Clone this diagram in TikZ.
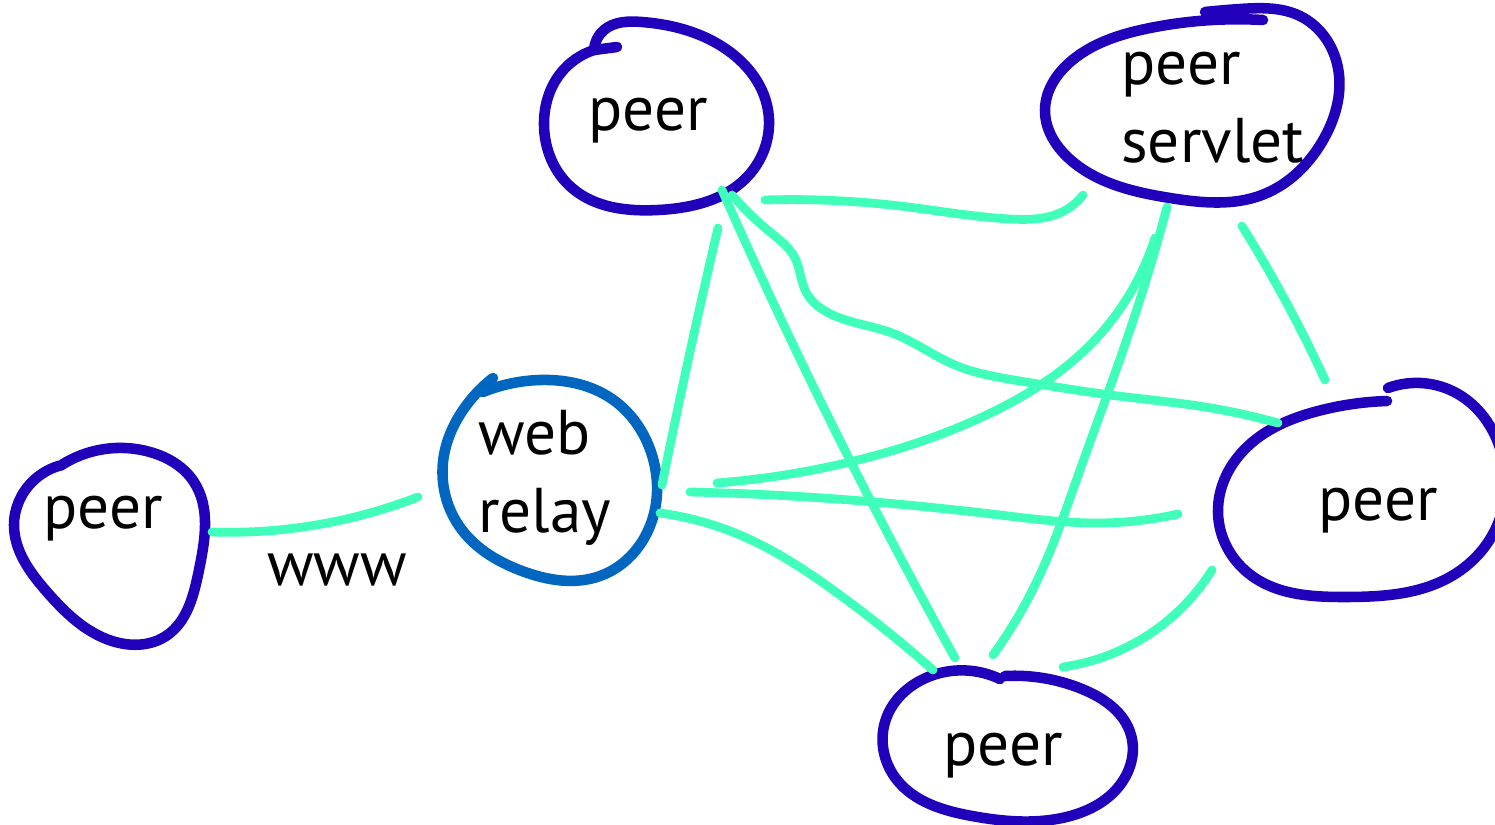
\documentclass[tikz,border=0pt]{standalone}
\usepackage{fontspec}
\setmainfont{PT Sans}
\usepackage{tikz}
\usetikzlibrary{hobby}
\definecolor{ringblue}{HTML}{2200BB}
\definecolor{relayblue}{HTML}{0066C0}
\definecolor{mint}{HTML}{40FFBA}

\begin{document}
\begin{tikzpicture}[x=0.02cm, y=-0.02cm, use Hobby shortcut,
        ring/.style={draw=ringblue, line width=6pt, line cap=round, line join=round},
        wire/.style={draw=mint, line width=5pt, line cap=round, line join=round},
        every node/.style={inner sep=0, anchor=base west, align=left, font=\fontsize{36}{44}\selectfont}]
        \useasboundingbox (0,0) rectangle (1495,825);

        % labels
        \node (PT) at (588,130) {peer};
        \node (PS) at (1121,162) {peer\\servlet};
        \node (WR) at (478,532) {web\\relay};
        \node (PL) at (43,528) {peer};
        \node (PR) at (1318,520) {peer};
        \node (PB) at (943,765) {peer};
        \node (W) at (267,585) {www};

        % rings
        \draw[ring] (617,47) -- (594,50);
        \draw[ring] (594,50) .. (604,30) .. (642,22) .. (718,44) .. (768,110) .. (748,176) .. (658,210) .. (572,188) .. (544,125) .. (560,74) .. (594,50);
        \draw[ring] (1263,20) .. (1150,28) .. (1075,58) .. (1045,110) .. (1073,162) .. (1170,198) .. (1262,195) .. (1322,142) .. (1338,68) .. (1300,16) .. (1240,9) .. (1205,12);
        \draw[ring, draw=relayblue] (483,392) .. (540,380) .. (612,399) .. (651,452) .. (650,526) .. (600,576) .. (522,571) .. (462,530) .. (443,462) .. (463,410) .. (493,378);
        \draw[ring] (60,466) .. (150,452) .. (194,482) .. (199,570) .. (166,636) .. (112,641) .. (47,592) .. (14,525) .. (32,482) .. (62,465);
        \draw[ring] (1388,388) .. (1458,394) .. (1500,448) .. (1496,528) .. (1450,577) .. (1345,597) .. (1252,576) .. (1218,512) .. (1248,446) .. (1318,411) .. (1387,401);
        \draw[ring] (1000,679) .. (928,677) .. (885,722) .. (897,780) .. (972,816) .. (1062,818) .. (1120,785) .. (1131,735) .. (1082,689) .. (1005,676);

        % wire ends
        \coordinate (pl1) at (212,532);
        \coordinate (wr1) at (418,497);
        \coordinate (wr2) at (662,485);
        \coordinate (wr3) at (717,483);
        \coordinate (wr4) at (690,492);
        \coordinate (wr5) at (660,513);
        \coordinate (pt1) at (718,228);
        \coordinate (pt2) at (722,190);
        \coordinate (pt3) at (732,195);
        \coordinate (pt4) at (765,200);
        \coordinate (ps1) at (1083,195);
        \coordinate (ps2) at (1155,238);
        \coordinate (ps3) at (1167,207);
        \coordinate (ps4) at (1242,226);
        \coordinate (pr1) at (1278,423);
        \coordinate (pr2) at (1325,380);
        \coordinate (pr3) at (1178,514);
        \coordinate (pr4) at (1212,570);
        \coordinate (pb1) at (955,658);
        \coordinate (pb2) at (993,655);
        \coordinate (pb3) at (933,670);
        \coordinate (pb4) at (1063,667);

        % wires
        \draw[wire] (pl1) .. (310,526) .. (wr1);
        \draw[wire] (pt1) .. (697,320) .. (wr2);
        \draw[wire] (pt2) .. (860,480) .. (pb1);
        \draw[wire] (pt3) .. (770,232) .. (795,258) .. (806,292) .. (835,316) .. (892,333) .. (955,365) .. (1020,381) .. (1110,395) .. (1205,407) .. (pr1);
        \draw[wire] (pt4) .. (900,206) .. (1010,219) .. (1062,212) .. (ps1);
        \draw[wire] (ps2) .. (1090,345) .. (980,418) .. (850,462) .. (wr3);
        \draw[wire] (ps3) .. (1130,330) .. (1080,470) .. (1035,585) .. (pb2);
        \draw[wire] (ps4) .. (1285,300) .. (pr2);
        \draw[wire] (wr4) .. (850,500) .. (1000,515) .. (1100,523) .. (pr3);
        \draw[wire] (wr5) .. (740,535) .. (840,595) .. (pb3);
        \draw[wire] (pr4) .. (1140,640) .. (pb4);
\end{tikzpicture}
\end{document}
